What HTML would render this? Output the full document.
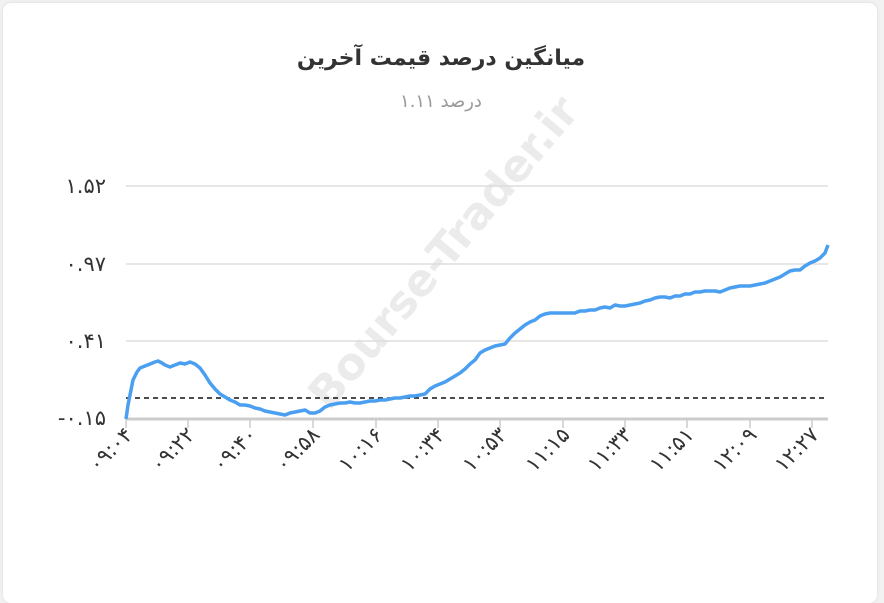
<!DOCTYPE html>
<html><head><meta charset="utf-8"><style>
html,body{margin:0;padding:0;background:#f2f2f2;}
.card{position:absolute;left:3px;top:3px;width:874px;height:600px;background:#fff;border-radius:8px;box-shadow:0 0 3px rgba(0,0,0,.1);}
svg{position:absolute;left:0;top:0;}
</style></head><body>
<div class="card"></div>
<svg width="884" height="591" viewBox="0 0 884 591" font-family="'DejaVu Sans','Liberation Sans',sans-serif">
<text x="441" y="65" text-anchor="middle" font-size="22" font-weight="bold" fill="#333">میانگین درصد قیمت آخرین</text>
<text x="441" y="107" text-anchor="middle" font-size="18" fill="#999">درصد ۱.۱۱</text>
<text x="455" y="262" text-anchor="middle" font-size="44" font-weight="bold" fill="#ebebeb" transform="rotate(-50 455 262)">Bourse-Trader.ir</text>
<g stroke="#ddd" stroke-width="1.5">
<line x1="126" y1="186" x2="828" y2="186"/><line x1="126" y1="264" x2="828" y2="264"/><line x1="126" y1="341" x2="828" y2="341"/>
</g>
<line x1="126" y1="419" x2="828" y2="419" stroke="#ccc" stroke-width="3"/>
<g stroke="#ccc" stroke-width="1.5">
<line x1="126" y1="419" x2="126" y2="428"/><line x1="188" y1="419" x2="188" y2="428"/><line x1="250" y1="419" x2="250" y2="428"/><line x1="313" y1="419" x2="313" y2="428"/><line x1="376" y1="419" x2="376" y2="428"/><line x1="438" y1="419" x2="438" y2="428"/><line x1="500" y1="419" x2="500" y2="428"/><line x1="563" y1="419" x2="563" y2="428"/><line x1="625" y1="419" x2="625" y2="428"/><line x1="687" y1="419" x2="687" y2="428"/><line x1="750" y1="419" x2="750" y2="428"/><line x1="812" y1="419" x2="812" y2="428"/>
</g>
<g font-size="21" fill="#333" text-anchor="end">
<text x="106" y="193">۱.۵۲</text><text x="106" y="271">۰.۹۷</text><text x="106" y="348">۰.۴۱</text><text x="106" y="425">-۰.۱۵</text>
</g>
<g font-size="21" fill="#333" text-anchor="end">
<text transform="translate(134,436) rotate(-45)">۰۹:۰۴</text>
<text transform="translate(196,436) rotate(-45)">۰۹:۲۲</text>
<text transform="translate(258,436) rotate(-45)">۰۹:۴۰</text>
<text transform="translate(321,436) rotate(-45)">۰۹:۵۸</text>
<text transform="translate(384,436) rotate(-45)">۱۰:۱۶</text>
<text transform="translate(446,436) rotate(-45)">۱۰:۳۴</text>
<text transform="translate(508,436) rotate(-45)">۱۰:۵۳</text>
<text transform="translate(571,436) rotate(-45)">۱۱:۱۵</text>
<text transform="translate(633,436) rotate(-45)">۱۱:۳۳</text>
<text transform="translate(695,436) rotate(-45)">۱۱:۵۱</text>
<text transform="translate(758,436) rotate(-45)">۱۲:۰۹</text>
<text transform="translate(820,436) rotate(-45)">۱۲:۲۷</text>
</g>
<line x1="126" y1="398" x2="828" y2="398" stroke="#111" stroke-width="1.5" stroke-dasharray="5,4"/>
<polyline fill="none" stroke="#4a9ff0" stroke-width="3.5" stroke-linejoin="round" points="126,419 128,405 131,390 133,380 137,372 140,368 145,366 150,364 155,362 158,361 162,363 165,365 170,367 175,365 180,363 185,364 190,362 195,364 200,368 205,375 210,383 215,389 220,394 225,397 230,400 235,402 240,405 245,405 250,406 255,408 260,409 265,411 270,412 275,413 280,414 285,415 290,413 295,412 300,411 305,410 310,413 315,413 320,411 325,407 330,405 335,404 340,403 345,403 350,402 355,403 360,403 365,402 370,401 375,401 380,400 385,400 390,399 395,398 400,398 405,397 410,396 415,396 420,395 425,394 430,389 435,386 440,384 445,382 450,379 455,376 460,373 465,369 470,364 475,360 480,353 485,350 490,348 495,346 500,345 505,344 510,338 515,333 520,329 525,325 530,322 535,320 540,316 545,314 550,313 555,313 560,313 565,313 570,313 575,313 580,311 585,311 590,310 595,310 600,308 605,307 610,308 615,305 620,306 625,306 630,305 635,304 640,303 645,301 650,300 655,298 660,297 665,297 670,298 675,296 680,296 685,294 690,294 695,292 700,292 705,291 710,291 715,291 720,292 725,290 730,288 735,287 740,286 745,286 750,286 755,285 760,284 765,283 770,281 775,279 780,277 785,274 790,271 795,270 800,270 805,266 810,263 815,261 820,258 825,253 828,245"/>
</svg>
</body></html>
